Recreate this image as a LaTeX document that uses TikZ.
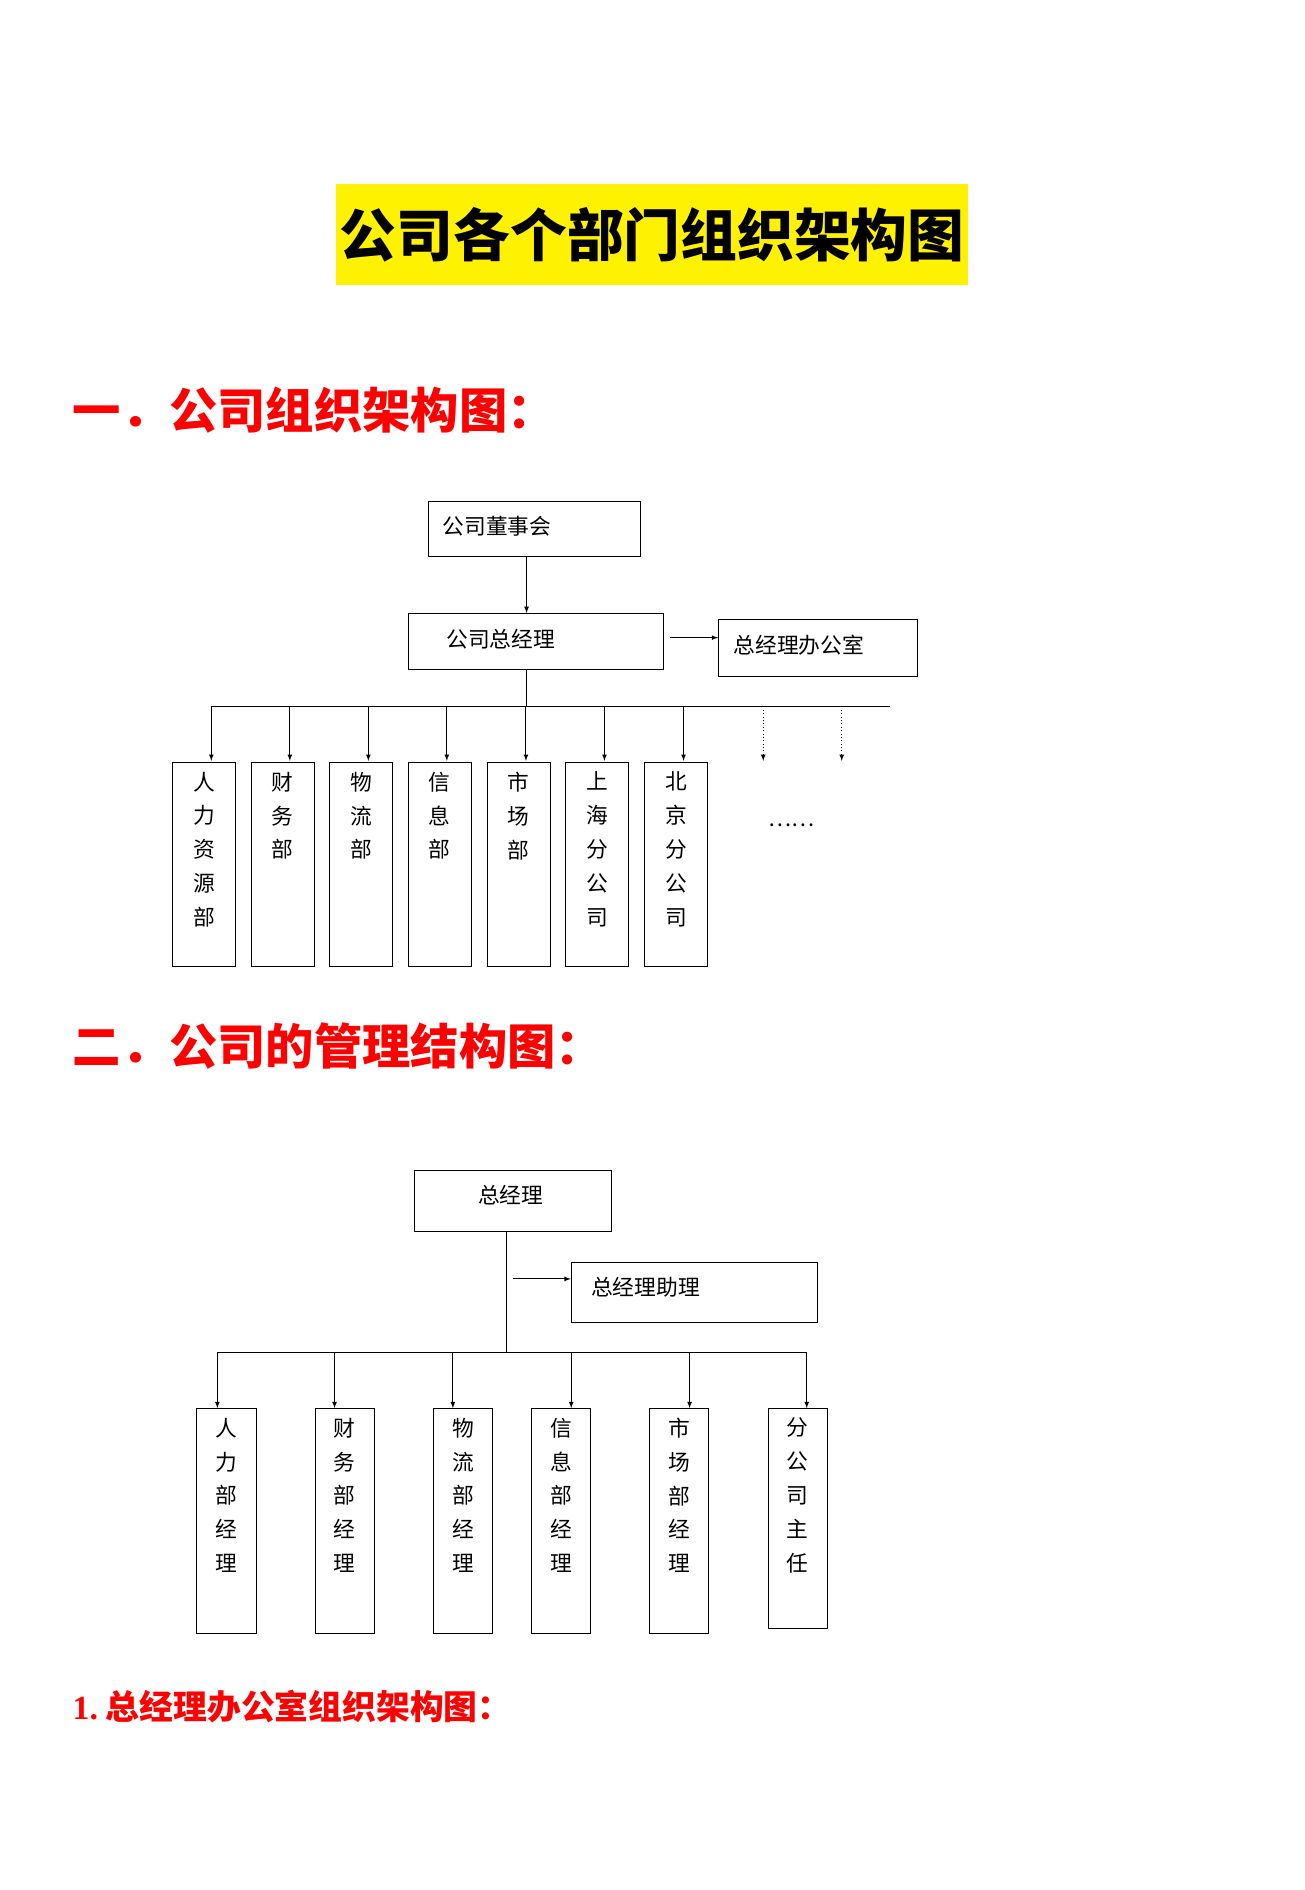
\documentclass[tikz,border=0pt]{standalone}
\usepackage{fontspec}
\setmainfont{Noto Sans CJK SC}
\newfontfamily\numfont{Liberation Serif}
\usetikzlibrary{positioning, arrows}

\begin{document}
\begin{tikzpicture}[x=1pt, y=-1pt]
        % Styles
        \tikzstyle{box} = [rectangle, draw, thick, inner sep=0pt, font=\fontsize{18}{22}\selectfont]
        \tikzstyle{dept} = [rectangle, draw, thick, inner sep=0pt, minimum width=52pt]
        \tikzstyle{vtext} = [anchor=north, align=center, inner sep=0pt, font=\fontsize{18}{28}\selectfont]
        \tikzstyle{line} = [draw, thick, -latex, shorten >=0pt, shorten <=0pt]
        \tikzstyle{heading} = [anchor=west, inner sep=0pt, text=red, font=\bfseries\fontsize{40}{44}\selectfont]

        \useasboundingbox (0,0) rectangle (1080,1565);

        % Titles
        \node [fill=yellow, minimum width=520pt, minimum height=84pt, font=\bfseries\fontsize{47}{50}\selectfont] (title) at (540,194) {公司各个部门组织架构图};
        \node [heading] (head1) at (60,340) {一．公司组织架构图：};
        \node [heading] (head2) at (60,866) {二．公司的管理结构图：};
        \node [heading, font=\bfseries\fontsize{28}{32}\selectfont] (head3) at (60,1413) {{\numfont 1.}\ 总经理办公室组织架构图：};

        % Part one
        \node [box, minimum width=175pt, minimum height=46pt] (board) at (442.5,438) {};
        \node [anchor=west, font=\fontsize{18}{22}\selectfont] (boardtxt) at (363,436) {公司董事会};
        \node [box, minimum width=211pt, minimum height=46pt] (gm) at (443.5,531) {};
        \node [anchor=west, font=\fontsize{18}{22}\selectfont] (gmtxt) at (366,529) {公司总经理};
        \node [box, minimum width=165pt, minimum height=47pt] (office) at (677.5,536.5) {};
        \node [anchor=west, font=\fontsize{18}{22}\selectfont] (officetxt) at (604,534) {总经理办公室};
        \coordinate (bus) at (436,585);
        \coordinate (busL) at (175,585);
        \coordinate (busR) at (737,585);
        \coordinate (offin) at (555,528);
        \path [line] (436,461) -- (gm.north -| 436,0);
        \path [line] (offin) -- (offin -| office.west);
        \draw [thick] (gm.south -| bus) -- (bus);
        \draw [thick] (busL) -- (busR);
        \foreach \x/\n/\t in {169/hr/{人\\力\\资\\源\\部}, 234/fin/{财\\务\\部}, 299/log/{物\\流\\部},
                364/inf/{信\\息\\部}, 429.5/mkt/{市\\场\\部}, 494.5/sh/{上\\海\\分\\公\\司}, 560/bj/{北\\京\\分\\公\\司}} {
            \node [dept, minimum height=169pt, anchor=north] (\n) at (\x,631) {};
            \node [vtext] (\n txt) at ([yshift=-8pt]\n.north) {\t};
            \path [line] (\n.north |- bus) ++(6,0) -- ++(0,45);
        }
        \foreach \x in {632,697}
            \draw [thick, dotted, -latex] (\x,585) -- (\x,630);
        \node [font=\fontsize{18}{22}\selectfont] (more) at (655,683) {……};

        % Part two
        \node [box, minimum width=163pt, minimum height=51pt] (boss) at (424.5,994.5) {};
        \node [font=\fontsize{18}{22}\selectfont] (bosstxt) at (423,990) {总经理};
        \node [box, minimum width=204pt, minimum height=50pt] (assist) at (575,1070) {};
        \node [anchor=west, font=\fontsize{18}{22}\selectfont] (assisttxt) at (486,1066) {总经理助理};
        \coordinate (bus2) at (419,1120);
        \coordinate (bus2L) at (180,1120);
        \coordinate (bus2R) at (668,1120);
        \coordinate (asin) at (425,1059);
        \draw [thick] (boss.south -| bus2) -- (bus2);
        \path [line] (asin) -- (asin -| assist.west);
        \draw [thick] (bus2L) -- (bus2R);
        \foreach \x/\n/\t/\h in {187.5/hrm/{人\\力\\部\\经\\理}/186, 285.5/finm/{财\\务\\部\\经\\理}/186,
                383.5/logm/{物\\流\\部\\经\\理}/186, 464.5/infm/{信\\息\\部\\经\\理}/186,
                562.5/mktm/{市\\场\\部\\经\\理}/186, 660.5/brm/{分\\公\\司\\主\\任}/182} {
            \node [dept, minimum width=49pt, minimum height=\h pt, anchor=north] (\n) at (\x,1166) {};
            \node [vtext] (\n txt) at ([yshift=-8pt]\n.north) {\t};
        }
        \foreach \n/\x in {hrm/180, finm/277, logm/375, infm/473, mktm/571, brm/668}
            \path [line] (\x,1120) -- (\n.north -| \x,0);
\end{tikzpicture}
\end{document}
